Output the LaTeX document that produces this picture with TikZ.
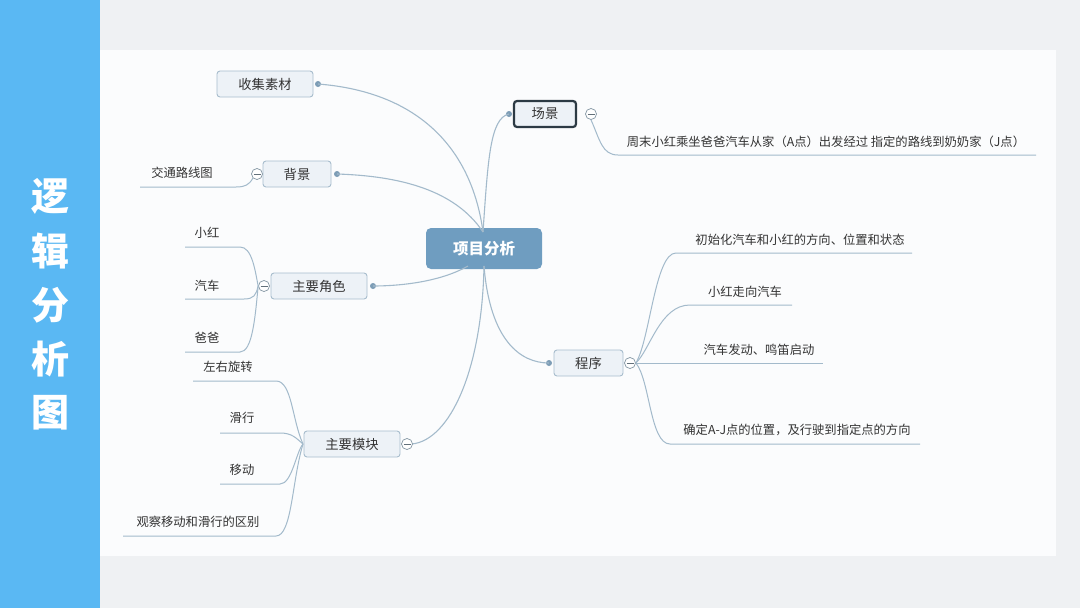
\documentclass[tikz,border=0pt]{standalone}
\usepackage{fontspec}
\newfontfamily\cjk{Noto Sans CJK SC}
\definecolor{barblue}{HTML}{5AB8F3}
\definecolor{outerbg}{HTML}{EFF1F3}
\definecolor{panel}{HTML}{FBFCFD}
\definecolor{centerfill}{HTML}{6F9DC0}
\definecolor{linec}{HTML}{A3BACB}
\definecolor{dotc}{HTML}{7D9DB6}
\definecolor{boxfill}{HTML}{EDF2F7}
\definecolor{boxdraw}{HTML}{A8BDCD}
\definecolor{txt}{HTML}{333333}
\definecolor{darkb}{HTML}{2C3A44}
\tikzset{
  x=1pt, y=-1pt,
  topbox/.style={draw=boxdraw, fill=boxfill, rounded corners=3pt, line width=0.9pt,
    minimum height=26, inner sep=0pt, text=txt, font=\cjk\fontsize{13.3}{15}\selectfont},
  centerbox/.style={fill=centerfill, rounded corners=5pt, minimum width=116, minimum height=41,
    text=white, font=\cjk\bfseries\fontsize{15.5}{17}\selectfont},
  leaf/.style={text=txt, inner sep=0pt, font=\cjk\fontsize{12.3}{14}\selectfont},
  dotn/.style={circle, fill=dotc, inner sep=0pt, minimum size=6},
  minusn/.style={circle, draw=linec!80!black, fill=white, line width=0.7pt, inner sep=0pt, minimum size=11,
    path picture={\draw[linec!60!black, line width=0.7pt] ([xshift=-3.5pt]path picture bounding box.center) -- ([xshift=3.5pt]path picture bounding box.center);}},
  conn/.style={draw=linec, line width=1.1pt},
  sub/.style={draw=linec, line width=1pt},
}
\begin{document}
\begin{tikzpicture}
% backgrounds
\fill[outerbg] (0,0) rectangle (1080,608);
\fill[panel] (100,50) rectangle (1056,556);
\fill[barblue] (0,0) rectangle (100,608);
\foreach \ch/\yy in {逻/196,辑/251,分/305,析/359,图/413}
  \node[text=white, font=\cjk\bfseries\fontsize{38}{40}\selectfont, inner sep=0pt] at (50,\yy) {\ch};

% central node
\node[centerbox] (c) at (484,248.5) {项目分析};
\coordinate (ctop) at (483,232);
\coordinate (cbot) at (484,266);
\coordinate (cbl) at (468,266);

% top-level nodes
\node[topbox, minimum width=96] (sc) at (265,84) {收集素材};
\node[topbox, minimum width=68] (bj) at (297,174) {背景};
\node[topbox, minimum width=62, draw=darkb, line width=2.2pt] (cj) at (545,114) {场景};
\node[topbox, minimum width=96] (js) at (319,286) {主要角色};
\node[topbox, minimum width=96] (mk) at (352,444) {主要模块};
\node[topbox, minimum width=69] (cx) at (588.5,363) {程序};

% dots
\node[dotn] (dsc) at (318,84) {};
\node[dotn] (dbj) at (337,174) {};
\node[dotn] (dcj) at (509,114) {};
\node[dotn] (djs) at (373,286) {};
\node[dotn] (dcx) at (549,363) {};

% main connectors
\draw[conn] (ctop) .. controls (472,150) and (420,92) .. (dsc.center);
\draw[conn] (ctop) .. controls (455,190) and (400,176) .. (dbj.center);
\draw[conn] (ctop) .. controls (488,160) and (490,118) .. (dcj.center);
\draw[conn] (cbl) .. controls (440,282) and (400,286) .. (djs.center);
\draw[conn] (cbot) .. controls (482,370) and (450,440) .. (412,444);
\draw[conn] (cbot) .. controls (490,340) and (520,363) .. (dcx.center);

% minus buttons
\node[minusn] (mcj) at (591,114) {};
\node[minusn] (mbj) at (257,174) {};
\node[minusn] (mjs) at (264,286) {};
\node[minusn] (mmk) at (407,444) {};
\node[minusn] (mcx) at (630,363) {};

% 场景 child
\node[leaf] (t1) at (826,142) {周末小红乘坐爸爸汽车从家（A点）出发经过 指定的路线到奶奶家（J点）};
\coordinate (u1) at (1036,155);
\draw[sub] (mcj.south) .. controls (600,140) and (602,155) .. (618,155) -- (u1);

% 背景 child
\node[leaf] (t2) at (182,173) {交通路线图};
\coordinate (u2) at (140,187);
\draw[sub] (mbj.south west) .. controls (249,185) and (245,187) .. (236,187) -- (u2);

% 主要角色 children
\node[leaf] (t3) at (207,233) {小红};
\node[leaf] (t4) at (207,286) {汽车};
\node[leaf] (t5) at (207,338) {爸爸};
\coordinate (u3) at (185,247);
\coordinate (u4) at (185,299);
\coordinate (u5) at (185,352);
\draw[sub] (mjs.west) .. controls (255,270) and (252,247) .. (240,247) -- (u3);
\draw[sub] (mjs.west) .. controls (256,295) and (254,299) .. (244,299) -- (u4);
\draw[sub] (mjs.west) .. controls (255,320) and (252,352) .. (240,352) -- (u5);

% 主要模块 children
\node[leaf] (t6) at (228,367) {左右旋转};
\node[leaf] (t7) at (242,418) {滑行};
\node[leaf] (t8) at (242,470) {移动};
\node[leaf] (t9) at (198,522) {观察移动和滑行的区别};
\coordinate (mkl) at (303,444);
\coordinate (u6) at (193,381);
\coordinate (u7) at (220,433);
\coordinate (u8) at (220,484);
\coordinate (u9) at (123,536);
\draw[sub] (mkl) .. controls (292,420) and (292,381) .. (276,381) -- (u6);
\draw[sub] (mkl) .. controls (296,438) and (292,433) .. (280,433) -- (u7);
\draw[sub] (mkl) .. controls (296,452) and (292,484) .. (280,484) -- (u8);
\draw[sub] (mkl) .. controls (292,480) and (292,536) .. (276,536) -- (u9);

% 程序 children
\node[leaf] (t10) at (800,240) {初始化汽车和小红的方向、位置和状态};
\node[leaf] (t11) at (745,292) {小红走向汽车};
\node[leaf] (t12) at (759,350) {汽车发动、鸣笛启动};
\node[leaf] (t13) at (797,430) {确定A-J点的位置，及行驶到指定点的方向};
\coordinate (u10) at (912,253);
\coordinate (u11) at (792,305);
\coordinate (u12) at (823,363);
\coordinate (u13) at (920,444);
\draw[sub] (mcx.east) .. controls (650,340) and (655,253) .. (676,253) -- (u10);
\draw[sub] (mcx.east) .. controls (650,350) and (660,305) .. (690,305) -- (u11);
\draw[sub] (mcx.east) -- (u12);
\draw[sub] (mcx.east) .. controls (650,380) and (650,444) .. (670,444) -- (u13);
\end{tikzpicture}
\end{document}
